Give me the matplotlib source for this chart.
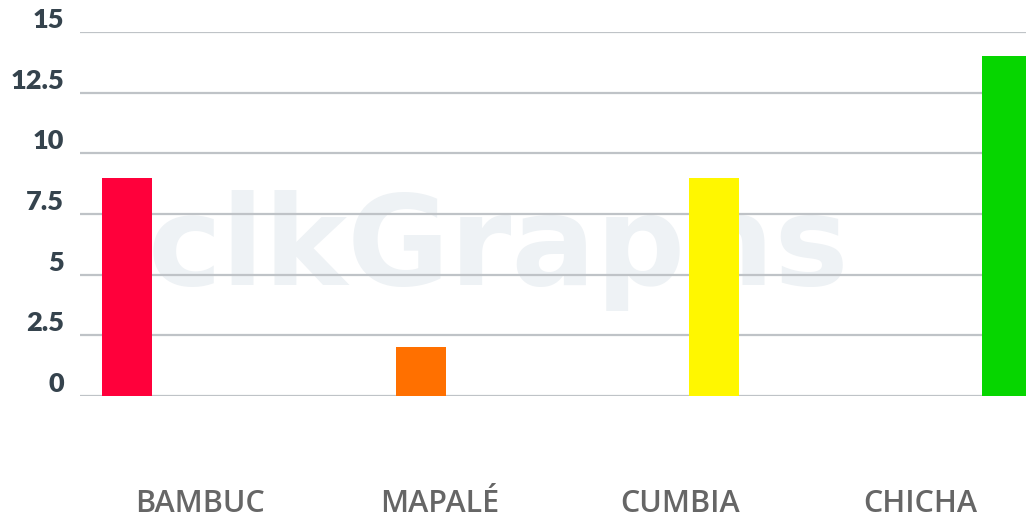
import matplotlib.pyplot as plt
from matplotlib.transforms import offset_copy

# data
categories = ['BAMBUC', 'MAPALÉ', 'CUMBIA', 'CHICHA']
values = [9, 2, 9, 14]
colors = ['#ff003b', '#ff7000', '#fff700', '#06d600']
y_ticks = [0, 2.5, 5, 7.5, 10, 12.5, 15]
y_labels = ['0', '2.5', '5', '7.5', '10', '12.5', '15']

W, H = 1026, 521
fig = plt.figure(figsize=(W / 100, H / 100), dpi=100)
ax = fig.add_axes([80 / W, (H - 396) / H, (W - 80) / W, (396 - 32) / H])

# bars sit at index positions; spacing 293 px, first centre at 127 px
spacing = 293.3
first = 127.3
ax.set_xlim((80 - first) / spacing, (W - first) / spacing)
ax.set_ylim(0, 15)

# watermark
ax.text(0.442, 0.305, 'clkGraphs', transform=ax.transAxes, ha='center', va='baseline',
        fontsize=90, fontweight='bold', family='DejaVu Sans', color='#eef2f5', zorder=0)

for y in y_ticks:
    ax.axhline(y, color='#bfc3c7', lw=1.6, zorder=1)

ax.bar(range(len(values)), values, width=50 / spacing, color=colors, zorder=2)

for s in ax.spines.values():
    s.set_visible(False)
ax.set_xticks([])
ax.set_yticks([])

# y labels sit just above their gridlines, right-aligned
tr = offset_copy(ax.get_yaxis_transform(), fig=fig, x=-16, y=4, units='dots')
for y, lab in zip(y_ticks, y_labels):
    ax.text(0, y, lab, transform=tr, ha='right', va='baseline', fontsize=19.5,
            fontweight='heavy', family='Lato', color='#35434d')

# category labels on their own evenly split axis
ax2 = ax.twiny()
ax2.set_xlim(0, (W - 80) / 240)
ax2.xaxis.set_ticks_position('bottom')
ax2.set_xticks([0.5, 1.5, 2.5, 3.5])
ax2.set_xticklabels(categories, fontsize=22, family='Open Sans', fontweight='semibold',
                    color='#666666')
ax2.tick_params(axis='x', length=0, pad=67)
for s in ax2.spines.values():
    s.set_visible(False)

fig.savefig('out.png', dpi=100)
